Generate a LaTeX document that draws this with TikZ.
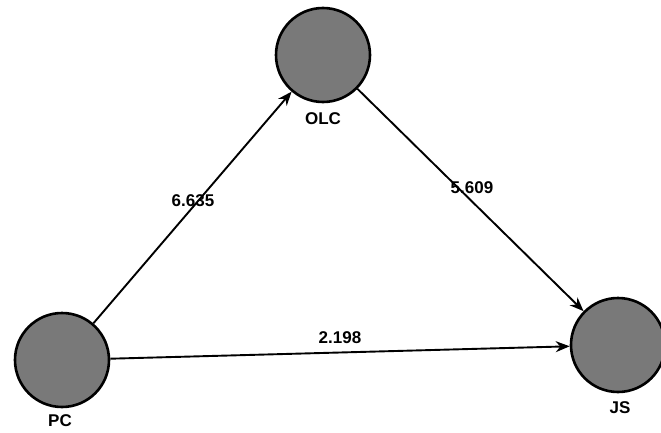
\documentclass[tikz,border=0pt]{standalone}
\usepackage{fontspec}
\setmainfont{Liberation Sans}
\usetikzlibrary{arrows.meta}
\begin{document}
\begin{tikzpicture}[x=1pt,y=-1pt,
  latent/.style={circle,draw=black,line width=2.6pt,fill=gray!95!black,minimum size=94pt,inner sep=0pt},
  lbl/.style={font=\fontsize{17}{17}\selectfont\bfseries,inner sep=0pt},
  path/.style={line width=1.9pt,-{Stealth[length=14pt,width=11pt]}}]
\useasboundingbox (0,0) rectangle (661,433);
\node[latent] (olc) at (323,55) {};
\node[latent] (pc) at (62,360) {};
\node[latent] (js) at (618,345) {};
\node[lbl] (olcl) at (323,119) {OLC};
\node[lbl] (pcl) at (60,421) {PC};
\node[lbl] (jsl) at (620,408) {JS};
\draw[path] (pc) -- (olc);
\draw[path] (olc) -- (js);
\draw[path] (pc) -- (js);
\node[lbl] (e1) at (193,201) {6.635};
\node[lbl] (e2) at (472,188) {5.609};
\node[lbl] (e3) at (340,338) {2.198};
\end{tikzpicture}
\end{document}
